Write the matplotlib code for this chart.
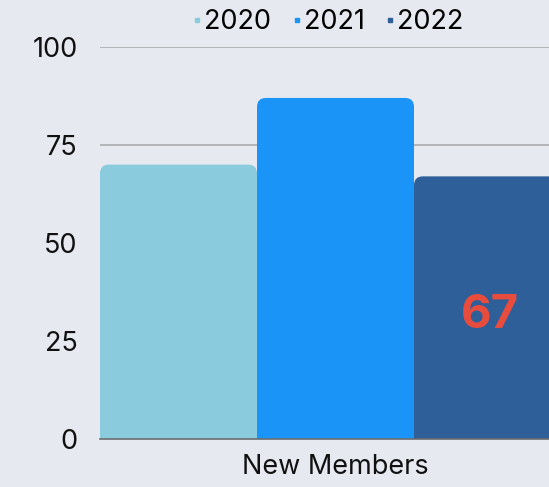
import matplotlib
matplotlib.use('Agg')
import matplotlib.pyplot as plt
from matplotlib.patches import FancyBboxPatch
from matplotlib.lines import Line2D

category = 'New Members'
years = ['2020', '2021', '2022']
values = [70, 87, 67]
colors = ['#8accdd', '#1a94f6', '#2e5f99']
highlight = 2  # index of the bar with a value label

plt.rcParams['font.family'] = ['Inter', 'DejaVu Sans']

bg = '#e6e9ef'
fig = plt.figure(figsize=(5.49, 4.87), dpi=100, facecolor=bg)
# plot area runs past the right edge of the picture
ax = fig.add_axes([100 / 549, 48 / 487, 471 / 549, 392 / 487])
ax.set_facecolor(bg)

offsets = [-1, 0, 1]
bars = ax.bar(offsets, values, width=1, color=colors, zorder=2)

# swap the plain rectangles for ones with rounded tops
for rect, c in zip(bars, colors):
    x0, w, h = rect.get_x(), rect.get_width(), rect.get_height()
    rect.remove()
    ax.add_patch(FancyBboxPatch((x0, -5), w, h + 5,
                                boxstyle='round,pad=0,rounding_size=0.057',
                                mutation_aspect=40, fc=c, ec='none', zorder=2))

ax.text(offsets[highlight] - 0.015, values[highlight] / 2 - 2, str(values[highlight]),
        ha='center', va='center', color='#e84c3d', fontsize=34,
        fontweight='bold', zorder=3)

ax.set_xlim(-1.5, 1.5)
ax.set_ylim(0, 100)
ax.set_yticks([0, 25, 50, 75, 100])
ax.set_xticks([0])
ax.set_xticklabels([category])
ax.tick_params(axis='both', length=0, labelsize=19.5, colors='#111111')
ax.tick_params(axis='y', pad=16)
ax.tick_params(axis='x', pad=11)
ax.grid(axis='y', color='#a9abae', linewidth=1.2, zorder=1)
ax.set_axisbelow(True)
for s in ['top', 'right', 'left']:
    ax.spines[s].set_visible(False)
ax.spines['bottom'].set_color('#6b6d70')
ax.spines['bottom'].set_linewidth(1.2)
ax.spines['bottom'].set_zorder(3)

handles = [Line2D([], [], marker='s', ls='', color=c, markersize=3.5) for c in colors]
fig.legend(handles, years, loc='center', bbox_to_anchor=(327 / 549, 1 - 22 / 487),
           ncol=3, frameon=False, fontsize=19.5, handletextpad=0.0,
           columnspacing=0.7, handlelength=0.5, borderpad=0)

fig.savefig('out.png', dpi=100, facecolor=bg)
